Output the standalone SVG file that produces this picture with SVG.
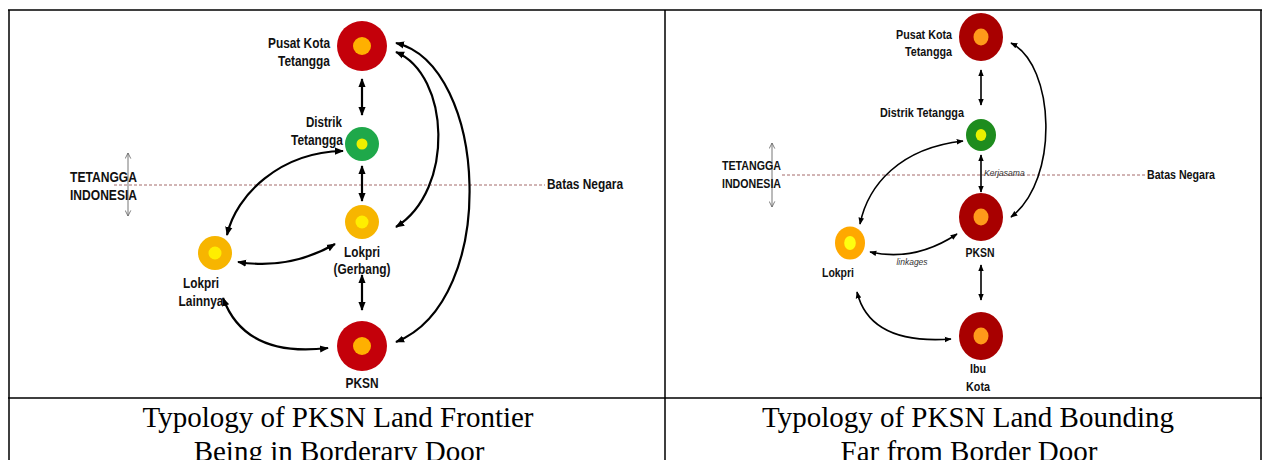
<svg xmlns="http://www.w3.org/2000/svg" width="1269" height="460" viewBox="0 0 1269 460">
<style>
.lbl{font-family:"Liberation Sans",Arial,sans-serif;font-weight:bold;font-size:14px;fill:#111}
.lblr{font-family:"Liberation Sans",Arial,sans-serif;font-weight:bold;font-size:13.5px;fill:#111}
.it{font-family:"Liberation Sans",Arial,sans-serif;font-style:italic;font-size:8.5px;fill:#333}
.cap{font-family:"Liberation Serif","Times New Roman",serif;font-size:29px;fill:#000}
.conL{fill:none;stroke:#000;stroke-width:2.2;marker-start:url(#ahL);marker-end:url(#ahL)}
.conR{fill:none;stroke:#000;stroke-width:1.6;marker-start:url(#ahR);marker-end:url(#ahR)}
.thin{fill:none;stroke:#666;stroke-width:0.9;marker-start:url(#ahT);marker-end:url(#ahT)}
.border{fill:none;stroke:#9a5a5a;stroke-width:0.9;stroke-dasharray:3 2}
.tbl{fill:none;stroke:#000;stroke-width:1.5}
</style>
<defs>
<marker id="ahL" viewBox="0 0 10 10" refX="9" refY="5" markerWidth="9" markerHeight="9" markerUnits="userSpaceOnUse" orient="auto-start-reverse"><path d="M0,1 L10,5 L0,9 z" fill="#000"/></marker>
<marker id="ahR" viewBox="0 0 10 10" refX="9" refY="5" markerWidth="7" markerHeight="7" markerUnits="userSpaceOnUse" orient="auto-start-reverse"><path d="M0,1 L10,5 L0,9 z" fill="#000"/></marker>
<marker id="ahT" viewBox="0 0 10 10" refX="9" refY="5" markerWidth="7" markerHeight="7" markerUnits="userSpaceOnUse" orient="auto-start-reverse"><path d="M1,1 L9,5 L1,9" fill="none" stroke="#666" stroke-width="1.2"/></marker>
</defs>

<g id="table">
<path class="tbl" d="M8,10 H1262 M8,398 H1262 M9,10 V460 M665,10 V460 M1261,10 V460"/>
</g>

<!-- LEFT PANEL -->
<g id="left-border">
<line class="border" x1="114" y1="185" x2="545" y2="185"/>
<text class="lbl" x="547" y="189" textLength="76" lengthAdjust="spacingAndGlyphs">Batas Negara</text>
<line class="thin" x1="128" y1="153" x2="128" y2="216"/>
<text class="lbl" x="70" y="182" textLength="67" lengthAdjust="spacingAndGlyphs">TETANGGA</text>
<text class="lbl" x="70" y="200" textLength="67" lengthAdjust="spacingAndGlyphs">INDONESIA</text>
</g>

<g id="L-connectors">
<path class="conL" d="M362,79 L362,115"/>
<path class="conL" d="M362,166 L362,201"/>
<path class="conL" d="M362,275 L362,310"/>
<path class="conL" d="M227,235 C236,195 280,152 343,151"/>
<path class="conL" d="M238,262 Q290,270 335,244"/>
<path class="conL" d="M223,298 Q245,358 328,348"/>
<path class="conL" d="M396,52 C450,75 455,190 396,227"/>
<path class="conL" d="M396,43 C488,65 500,300 396,342"/>
</g>

<g id="L-pusat-kota">
<circle cx="362" cy="46" r="25" fill="#c4000a"/>
<circle cx="362" cy="46" r="9" fill="#ffb000"/>
<text class="lbl" x="330" y="48" text-anchor="end" textLength="62" lengthAdjust="spacingAndGlyphs">Pusat Kota</text>
<text class="lbl" x="330" y="66" text-anchor="end" textLength="52" lengthAdjust="spacingAndGlyphs">Tetangga</text>
</g>
<g id="L-distrik">
<circle cx="362" cy="144" r="17" fill="#1fa84a"/>
<circle cx="362" cy="144" r="5.5" fill="#eef000"/>
<text class="lbl" x="324" y="127" text-anchor="middle" textLength="36" lengthAdjust="spacingAndGlyphs">Distrik</text>
<text class="lbl" x="343" y="145" text-anchor="end" textLength="52" lengthAdjust="spacingAndGlyphs">Tetangga</text>
</g>
<g id="L-lokpri-gerbang">
<circle cx="362" cy="222" r="17" fill="#f7b500"/>
<circle cx="362" cy="222" r="6.5" fill="#ffee00"/>
<text class="lbl" x="362" y="257" text-anchor="middle" textLength="36" lengthAdjust="spacingAndGlyphs">Lokpri</text>
<text class="lbl" x="362" y="274" text-anchor="middle" textLength="57" lengthAdjust="spacingAndGlyphs">(Gerbang)</text>
</g>
<g id="L-lokpri-lainnya">
<circle cx="215" cy="253" r="17" fill="#f7b500"/>
<circle cx="215" cy="253" r="6.5" fill="#ffee00"/>
<text class="lbl" x="201" y="288" text-anchor="middle" textLength="36" lengthAdjust="spacingAndGlyphs">Lokpri</text>
<text class="lbl" x="201" y="306" text-anchor="middle" textLength="45" lengthAdjust="spacingAndGlyphs">Lainnya</text>
</g>
<g id="L-pksn">
<circle cx="362" cy="346" r="25" fill="#c4000a"/>
<circle cx="362" cy="346" r="9" fill="#ffb000"/>
<text class="lbl" x="362" y="388" text-anchor="middle" textLength="33" lengthAdjust="spacingAndGlyphs">PKSN</text>
</g>

<!-- RIGHT PANEL -->
<g id="right-border">
<line class="border" x1="782" y1="175" x2="1145" y2="175"/>
<text class="lblr" x="1147" y="179" textLength="68" lengthAdjust="spacingAndGlyphs">Batas Negara</text>
<line class="thin" x1="772" y1="143" x2="772" y2="207"/>
<text class="lblr" x="722" y="170" textLength="59" lengthAdjust="spacingAndGlyphs">TETANGGA</text>
<text class="lblr" x="722" y="188" textLength="59" lengthAdjust="spacingAndGlyphs">INDONESIA</text>
</g>

<g id="R-connectors">
<path class="conR" d="M981,70 L981,105"/>
<path class="conR" d="M981,155 L981,192"/>
<path class="conR" d="M981,265 L981,300"/>
<path class="conR" d="M1011,43 C1055,65 1060,180 1011,217"/>
<path class="conR" d="M860,224 C868,185 900,148 963,141"/>
<path class="conR" d="M870,252 Q915,262 957,234"/>
<path class="conR" d="M857,292 Q870,345 951,339"/>
<text class="it" x="984" y="176">Kerjasama</text>
<text class="it" x="912" y="265" text-anchor="middle">linkages</text>
</g>

<g id="R-pusat-kota">
<ellipse cx="981" cy="37" rx="22" ry="24" fill="#a80000"/>
<ellipse cx="981" cy="37" rx="7.5" ry="8.5" fill="#ff9a1a"/>
<text class="lblr" x="952" y="39" text-anchor="end" textLength="56" lengthAdjust="spacingAndGlyphs">Pusat Kota</text>
<text class="lblr" x="952" y="56" text-anchor="end" textLength="47" lengthAdjust="spacingAndGlyphs">Tetangga</text>
</g>
<g id="R-distrik">
<ellipse cx="981" cy="135" rx="15" ry="16" fill="#1e8c1e"/>
<ellipse cx="981" cy="135" rx="5.3" ry="6" fill="#e8f000"/>
<text class="lblr" x="964" y="117" text-anchor="end" textLength="84" lengthAdjust="spacingAndGlyphs">Distrik Tetangga</text>
</g>
<g id="R-pksn">
<ellipse cx="981" cy="217" rx="22" ry="24" fill="#a80000"/>
<ellipse cx="981" cy="217" rx="7.5" ry="8.5" fill="#ff9a1a"/>
<text class="lblr" x="980" y="257" text-anchor="middle" textLength="29" lengthAdjust="spacingAndGlyphs">PKSN</text>
</g>
<g id="R-lokpri">
<ellipse cx="850" cy="243" rx="15" ry="16.5" fill="#ffa800"/>
<ellipse cx="850" cy="243" rx="5.8" ry="7" fill="#ffff10"/>
<text class="lblr" x="838" y="277" text-anchor="middle" textLength="32" lengthAdjust="spacingAndGlyphs">Lokpri</text>
</g>
<g id="R-ibu-kota">
<ellipse cx="981" cy="336" rx="22" ry="24" fill="#a80000"/>
<ellipse cx="981" cy="336" rx="7.5" ry="8.5" fill="#ff9a1a"/>
<text class="lblr" x="978" y="373" text-anchor="middle" textLength="16" lengthAdjust="spacingAndGlyphs">Ibu</text>
<text class="lblr" x="978" y="391" text-anchor="middle" textLength="24" lengthAdjust="spacingAndGlyphs">Kota</text>
</g>

<g id="captions">
<text class="cap" x="338" y="427" text-anchor="middle">Typology of PKSN Land Frontier</text>
<text class="cap" x="339" y="461" text-anchor="middle">Being in Borderary Door</text>
<text class="cap" x="968" y="427" text-anchor="middle">Typology of PKSN Land Bounding</text>
<text class="cap" x="969" y="461" text-anchor="middle">Far from Border Door</text>
</g>
</svg>
